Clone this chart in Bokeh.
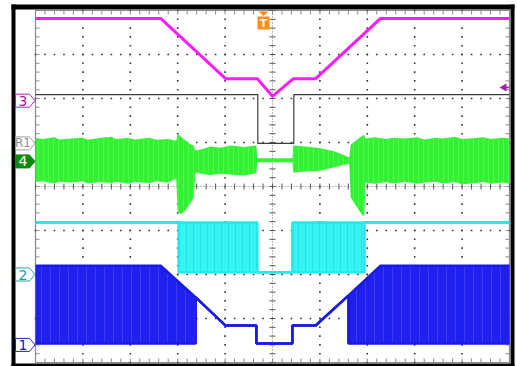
import numpy as np
from bokeh.plotting import figure
from bokeh.models import Range1d
from bokeh.core.properties import value
from bokeh.embed import file_html
from bokeh.resources import INLINE

# ---- trace data: time in divisions (-5..5), level in divisions (-4..4) ----
mag_t = [-5.0, -2.36, -0.99, -0.32, 0.0, 0.44, 0.91, 2.28, 5.0]
mag_v = [3.82, 3.82, 2.45, 2.45, 2.05, 2.45, 2.45, 3.82, 3.82]

gray_t = [-5.0, -0.31, -0.31, 0.45, 0.45, 5.0]
gray_v = [2.09, 2.09, 0.98, 0.98, 2.09, 2.09]

grn_t = [-5.0, -4.85, -4.6, -4.5, -4.25, -4.0, -3.9, -3.65, -3.4, -3.3, -3.05, -2.9, -2.6, -2.45,
         -2.2, -2.03, -2.00, -1.92, -1.84, -1.76, -1.67, -1.62, -1.45, -1.31, -1.1, -0.89,
         -0.6, -0.34, -0.32, 0.42, 0.44, 0.7, 1.01, 1.3, 1.54, 1.62, 1.65, 1.77, 1.90, 1.94,
         1.96, 2.15, 2.4, 2.55, 2.8, 3.05, 3.2, 3.45, 3.6, 3.85, 4.0, 4.3, 4.45, 4.6, 4.85, 5.0]
grn_hi = [1.10, 1.08, 1.12, 1.07, 1.09, 1.11, 1.06, 1.10, 1.13, 1.08, 1.10, 1.07, 1.11, 1.06,
          1.08, 1.04, 1.20, 1.12, 1.05, 0.98, 0.93, 0.82, 0.86, 0.91, 0.88, 0.93,
          0.90, 0.93, 0.64, 0.64, 0.93, 0.91, 0.87, 0.80, 0.70, 0.66, 0.95, 1.05, 1.16, 1.16,
          1.09, 1.12, 1.08, 1.11, 1.09, 1.12, 1.07, 1.11, 1.09, 1.13, 1.08, 1.10, 1.12, 1.08, 1.11, 1.09]
grn_lo = [0.10, 0.12, 0.07, 0.11, 0.09, 0.12, 0.07, 0.10, 0.08, 0.11, 0.06, 0.10, 0.08, 0.12,
          0.09, 0.18, -0.59, -0.62, -0.55, -0.42, -0.27, 0.32, 0.28, 0.26, 0.29, 0.27,
          0.25, 0.30, 0.55, 0.55, 0.32, 0.34, 0.36, 0.44, 0.50, 0.52, -0.25, -0.45, -0.66, -0.66,
          0.09, 0.06, 0.10, 0.07, 0.11, 0.06, 0.09, 0.11, 0.07, 0.10, 0.05, 0.08, 0.11, 0.06, 0.09, 0.07]

cyan_t = [-5.0, -1.98, -1.98, -0.32, -0.32, 0.42, 0.42, 1.94, 1.94, 5.0]
cyan_hi = [-0.82, -0.82, -0.82, -0.82, -1.95, -1.95, -0.82, -0.82, -0.82, -0.82]
cyan_lo = [-0.82, -0.82, -1.95, -1.95, -1.95, -1.95, -1.95, -1.95, -0.82, -0.82]

blue_t = [-5.0, -2.36, -1.62, -1.62, -0.99, -0.34, -0.34, 0.42, 0.42, 0.91, 1.60, 1.60, 2.28, 5.0]
blue_hi = [-1.80, -1.80, -2.52, -2.52, -3.16, -3.16, -3.57, -3.57, -3.16, -3.16, -2.48, -2.48, -1.80, -1.80]
blue_lo = [-3.57, -3.57, -3.57, -2.52, -3.16, -3.16, -3.57, -3.57, -3.16, -3.16, -2.48, -3.57, -3.57, -3.57]

tag_labels = ["3", "R1", "4", "2", "1"]
tag_levels = [1.95, 0.98, 0.57, -2.00, -3.60]

# ---- layout helpers (reference pixel -> divisions) ----
PX_X, PX_Y = 47.4, 44.0
def X(px):
    return (px - 272) / PX_X
def Y(px):
    return (186 - px) / PX_Y

W, H, M = 517, 366, 0
p = figure(width=W, height=H, output_backend="svg", toolbar_location=None,
           x_range=Range1d(X(M), X(M + W)), y_range=Range1d(Y(M + H), Y(M)),
           min_border=0)
p.xaxis.visible = False
p.yaxis.visible = False
p.grid.visible = False
p.outline_line_color = None
p.background_fill_color = "white"
p.border_fill_color = "white"

# black bezel
p.quad(left=[X(11), X(11), X(510), X(11)], right=[X(514), X(15), X(514), X(514)],
       top=[Y(4), Y(4), Y(4), Y(363)], bottom=[Y(9), Y(366), Y(366), Y(366)],
       fill_color="black", line_color=None)

# screen border
p.quad(left=[-5], right=[5], bottom=[-4], top=[4], fill_color=None,
       line_color="#8a8a8a", line_width=1.2)

# grid dots
minor_y = np.arange(-4, 4.001, 0.2)
minor_x = np.arange(-5, 5.001, 0.2)
gx, gy = [], []
for k in [-4, -3, -2, -1, 1, 2, 3, 4]:
    gx += [k] * len(minor_y); gy += list(minor_y)
for m in [-3, -2, -1, 1, 2, 3]:
    gx += list(minor_x); gy += [m] * len(minor_x)
p.rect(x=gx, y=gy, width=1.6, height=1.6, width_units="screen", height_units="screen",
       fill_color="#333333", line_color=None)

# center cross
p.line([0, 0], [-4, 4], line_color="#777777", line_width=1, line_dash="1 2")
p.line([-5, 5], [0, 0], line_color="#777777", line_width=1, line_dash="1 2")
tx = 3 / PX_X; ty = 3 / PX_Y
p.segment(x0=[-tx] * len(minor_y), x1=[tx] * len(minor_y), y0=list(minor_y), y1=list(minor_y),
          line_color="#555555", line_width=1)
p.segment(x0=list(minor_x), x1=list(minor_x), y0=[-ty] * len(minor_x), y1=[ty] * len(minor_x),
          line_color="#555555", line_width=1)
# edge ticks
ex = 4 / PX_X; ey = 4 / PX_Y
p.segment(x0=[-5] * len(minor_y), x1=[-5 + ex] * len(minor_y), y0=list(minor_y), y1=list(minor_y),
          line_color="#8a8a8a", line_width=1)
p.segment(x0=[5] * len(minor_y), x1=[5 - ex] * len(minor_y), y0=list(minor_y), y1=list(minor_y),
          line_color="#8a8a8a", line_width=1)
p.segment(x0=list(minor_x), x1=list(minor_x), y0=[-4] * len(minor_x), y1=[-4 + ey] * len(minor_x),
          line_color="#8a8a8a", line_width=1)
p.segment(x0=list(minor_x), x1=list(minor_x), y0=[4] * len(minor_x), y1=[4 - ey] * len(minor_x),
          line_color="#8a8a8a", line_width=1)

# traces
p.varea(x=blue_t, y1=blue_lo, y2=blue_hi, fill_color="#1f1fef",
        hatch_pattern="vertical_line", hatch_color="#3a3af4", hatch_scale=9, hatch_weight=1)
p.line(blue_t, blue_hi, line_color="#1a1ae6", line_width=2.5)
p.line(blue_t, blue_lo, line_color="#1a1ae6", line_width=2.5)

p.varea(x=cyan_t, y1=cyan_lo, y2=cyan_hi, fill_color="#36f4f4",
        hatch_pattern="vertical_line", hatch_color="#28e2e2", hatch_scale=7, hatch_weight=1)
p.line(cyan_t, cyan_hi, line_color="#22e8e8", line_width=2.5)
p.line(cyan_t, cyan_lo, line_color="#22e8e8", line_width=2.5)

p.varea(x=grn_t, y1=grn_lo, y2=grn_hi, fill_color="#33f033",
        hatch_pattern="vertical_line", hatch_color="#4cf84c", hatch_scale=5, hatch_weight=1)

p.line(gray_t, gray_v, line_color="#3c3c3c", line_width=1.2)
p.line(mag_t, mag_v, line_color="#ff1aff", line_width=3)

# channel tags on the left
tag_fill = ["white", "white", "#0c8a0c", "white", "white"]
tag_line = ["#b020b0", "#a0a0a0", "#0c8a0c", "#20a8a8", "#2020c0"]
tag_text = ["#a020a0", "#909090", "white", "#20a0a0", "#1a1ab0"]
tag_size = ["14px", "12px", "14px", "14px", "14px"]
xs, ys = [], []
for lv in tag_levels:
    xs.append([X(15), X(29), X(34.5), X(29), X(15)])
    ys.append([lv + 6.5 / PX_Y, lv + 6.5 / PX_Y, lv, lv - 6.5 / PX_Y, lv - 6.5 / PX_Y])
p.patches(xs=xs, ys=ys, fill_color=tag_fill, line_color=tag_line, line_width=1)
p.text(x=[X(22.5)] * 5, y=tag_levels, text=tag_labels, text_color=tag_text,
       text_font=value("DejaVu Sans"), text_font_size=tag_size,
       text_align="center", text_baseline="middle")

# trigger marker
p.patch([X(258), X(268), X(263)], [Y(11), Y(11), Y(15.5)], fill_color="#ff8c1a", line_color=None)
p.quad(left=[X(257)], right=[X(269)], top=[Y(16)], bottom=[Y(29)], fill_color="#ff8c1a",
       line_color=None)
p.text(x=[X(263)], y=[Y(22.5)], text=["T"], text_color="white",
       text_font=value("DejaVu Sans"), text_font_size="11px", text_font_style="bold",
       text_align="center", text_baseline="middle")

# trigger level arrow on right
p.patch([X(499), X(506), X(506)], [Y(87), Y(83), Y(91)], fill_color="#a020a0", line_color=None)
p.line([X(505), X(509)], [Y(87), Y(87)], line_color="#a020a0", line_width=1.5)

open("out.html", "w").write(file_html(p, INLINE))
